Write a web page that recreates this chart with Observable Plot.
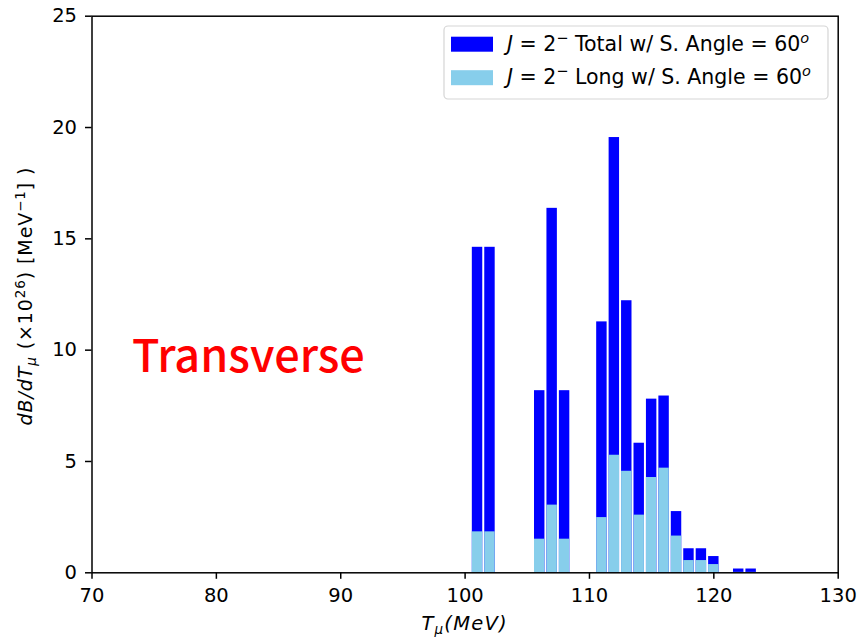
<!DOCTYPE html>
<html>
<head>
<meta charset="utf-8">
<script src="https://cdn.jsdelivr.net/npm/d3@7"></script>
<script src="https://cdn.jsdelivr.net/npm/@observablehq/plot@0.6"></script>
<style>
  html, body { margin: 0; padding: 0; background: #fff; }
  #chart { width: 859px; height: 640px; }
</style>
</head>
<body>
<div id="chart"></div>
<script>
// ---- data ----
const energies  = [101, 102, 106, 107, 108, 111, 112, 113, 114, 115, 116, 117, 118, 119, 120, 122, 123];
const totalVals = [14.62, 14.62, 8.18, 16.37, 8.18, 11.27, 19.55, 12.22, 5.82, 7.80, 7.94, 2.75, 1.08, 1.08, 0.73, 0.17, 0.17];
const longVals  = [1.84, 1.84, 1.51, 3.04, 1.51, 2.48, 5.28, 4.56, 2.59, 4.28, 4.70, 1.65, 0.55, 0.55, 0.37, 0.02, 0.02];
const xTicks = [70, 80, 90, 100, 110, 120, 130];
const yTicks = [0, 5, 10, 15, 20, 25];
const seriesNames = ["Total", "Long"];
const seriesColors = ["#0000ff", "#87ceeb"];

const rows = energies.map((e, i) => ({e, total: totalVals[i], long: longVals[i]}));

const FONT = "DejaVu Sans";
const FS = 18.6;

const chart = Plot.plot({
  width: 859,
  height: 640,
  marginLeft: 91.5,
  marginRight: 21.3,
  marginTop: 15.7,
  marginBottom: 67.7,
  style: {fontFamily: FONT, fontSize: FS + "px", color: "#000", background: "#fff"},
  x: {domain: [70, 130]},
  y: {domain: [0, 25]},
  marks: [
    Plot.rectY(rows, {x1: d => d.e - 0.5, x2: d => d.e + 0.5, y1: 0, y2: "total", fill: seriesColors[0], insetLeft: 1, insetRight: 1}),
    Plot.rectY(rows, {x1: d => d.e - 0.5, x2: d => d.e + 0.5, y1: 0, y2: "long", fill: seriesColors[1], insetLeft: 1, insetRight: 1}),
    Plot.frame({stroke: "#000", strokeWidth: 1.5}),
    Plot.axisX({ticks: xTicks, tickSize: 6.5, tickPadding: 9, label: null, strokeWidth: 1.5, fontSize: 19.5}),
    Plot.axisY({ticks: yTicks, tickSize: 6.5, tickPadding: 8.5, label: null, strokeWidth: 1.5, fontSize: 19.5})
  ]
});
document.getElementById("chart").appendChild(chart);

const svg = d3.select(chart);
const xs = chart.scale("x");

// x-axis label
const xl = svg.append("text")
  .attr("x", (xs.range[0] + xs.range[1]) / 2).attr("y", 630)
  .attr("text-anchor", "middle").attr("font-family", FONT).attr("font-size", 19.5)
  .attr("letter-spacing", 1.2)
  .attr("font-style", "italic").attr("fill", "#000");
xl.append("tspan").text("T");
xl.append("tspan").attr("dy", 4).attr("font-size", 13.5).text("μ");
xl.append("tspan").attr("dy", -4).text("(MeV)");

// y-axis label
const yl = svg.append("text")
  .attr("transform", "translate(32,296) rotate(-90)")
  .attr("text-anchor", "middle").attr("font-family", FONT).attr("font-size", 19)
  .attr("letter-spacing", 0.9).attr("fill", "#000");
yl.append("tspan").attr("font-style", "italic").text("dB/dT");
yl.append("tspan").attr("font-style", "italic").attr("dy", 4).attr("font-size", 13.5).text("μ");
yl.append("tspan").attr("dy", -4).text(" (×10");
yl.append("tspan").attr("dy", -7).attr("font-size", 13.5).text("26");
yl.append("tspan").attr("dy", 7).text(") [MeV");
yl.append("tspan").attr("dy", -7).attr("font-size", 13.5).text("−1");
yl.append("tspan").attr("dy", 7).text("] )");

// annotation
svg.append("text")
  .attr("x", 132).attr("y", 371.5).attr("text-anchor", "start")
  .attr("font-family", "Noto Sans CJK KR").attr("font-size", 45).attr("font-weight", 500)
  .attr("fill", "#ff0000").text("Transverse");

// legend
const lg = svg.append("g");
lg.append("rect").attr("x", 444).attr("y", 26).attr("width", 384).attr("height", 73)
  .attr("rx", 4).attr("fill", "#fff").attr("fill-opacity", 0.8)
  .attr("stroke", "#d5d5d5").attr("stroke-width", 1.2);
seriesNames.forEach((name, i) => {
  const y0 = 36.7 + i * 33.5;
  lg.append("rect").attr("x", 451).attr("y", y0).attr("width", 42).attr("height", 15)
    .attr("fill", seriesColors[i]);
  const t = lg.append("text").attr("x", 507).attr("y", y0 + 14).attr("text-anchor", "start")
    .attr("font-family", FONT).attr("font-size", 20.5).attr("fill", "#000");
  t.append("tspan").attr("font-style", "italic").text("J");
  t.append("tspan").text(" = 2");
  t.append("tspan").attr("dy", -8).attr("font-size", 14.5).text("−");
  t.append("tspan").attr("dy", 8).text(" " + name + " w/ S. Angle = 60");
  t.append("tspan").attr("dy", -8).attr("font-size", 14.5).attr("font-style", "italic").text("o");
});
</script>
</body>
</html>
